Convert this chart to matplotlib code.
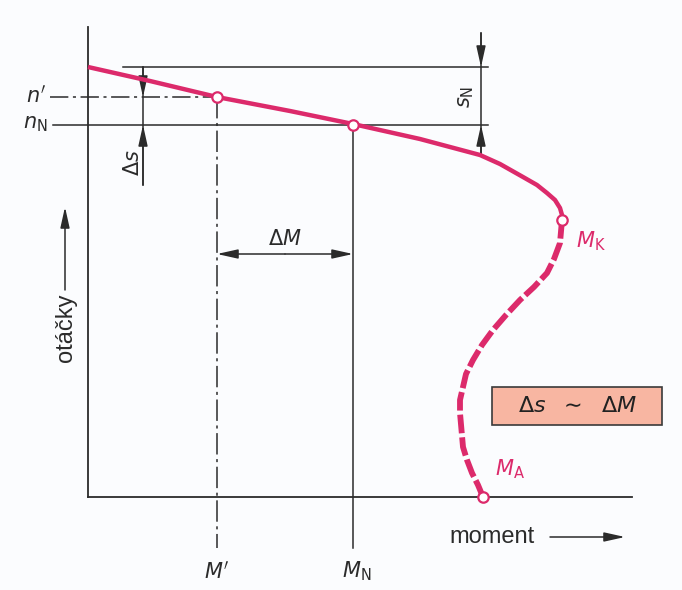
import matplotlib.pyplot as plt
from matplotlib.patches import FancyArrowPatch, Rectangle

plt.rcParams['font.family'] = ['Liberation Sans', 'DejaVu Sans']
plt.rcParams['mathtext.fontset'] = 'dejavusans'

# torque-speed curve (moment, otacky) in drawing units, origin at axis corner
stable_m = [0, 62, 129, 202, 265, 332, 392, 412, 435, 449, 459, 467, 472, 474, 474]
stable_n = [430, 416, 400, 386, 373, 358, 342, 333, 320, 312, 304, 297, 289, 282, 277]
start_m = [474, 472, 466, 459, 446, 432, 418, 405, 394, 385, 378, 375, 372, 372, 375, 379, 384, 390, 395]
start_n = [277, 254, 238, 224, 210, 197, 182, 167, 152, 137, 123, 110, 97, 84, 50, 37, 24, 12, 0]

# marked points
pt_m = [129, 265, 474, 395]
pt_n = [400, 372, 277, 0]

n_sync = 430
n_prime, n_nom = 400, 372
m_prime, m_nom = 129, 265

red = '#dc2a6b'
ink = '#2b2b2b'

fig = plt.figure(figsize=(6.82, 5.90), dpi=100)
fig.patch.set_facecolor('#fbfcfe')
ax = fig.add_axes([0, 0, 1, 1])
ax.set_xlim(-88, 594)
ax.set_ylim(-93, 497)
ax.axis('off')

# axes of the diagram
ax.plot([0, 0], [0, 470], color=ink, lw=1.3)
ax.plot([0, 544], [0, 0], color=ink, lw=1.3)

# helper lines
ax.plot([35, 400], [n_sync, n_sync], color=ink, lw=1.1)
ax.plot([-38, m_prime], [n_prime, n_prime], color=ink, lw=1.1, dashes=(12, 3, 2, 3))
ax.plot([-35, 400], [n_nom, n_nom], color=ink, lw=1.1)
ax.plot([m_prime, m_prime], [n_prime, -51], color=ink, lw=1.1, dashes=(14, 3, 2, 3))
ax.plot([m_nom, m_nom], [n_nom, -51], color=ink, lw=1.1)


def arrow(p0, p1):
    ax.add_patch(FancyArrowPatch(p0, p1, arrowstyle='-|>,head_length=0.9,head_width=0.2',
                                 mutation_scale=14, color=ink, lw=1.1, shrinkA=0, shrinkB=0))


# s_N dimension
ax.plot([393, 393], [464, 342], color=ink, lw=1.1)
arrow((393, 464), (393, n_sync))
arrow((393, 342), (393, n_nom))
# delta s dimension
ax.plot([55, 55], [n_sync, 312], color=ink, lw=1.1)
arrow((55, n_sync), (55, n_prime))
arrow((55, 312), (55, n_nom))
# delta M dimension
arrow(((m_prime + m_nom) / 2, 243), (m_prime, 243))
arrow(((m_prime + m_nom) / 2, 243), (m_nom, 243))
# axis arrows
arrow((-23, 207), (-23, 290))
arrow((462, -40), (537, -40))

# curve
ax.plot(stable_m, stable_n, color=red, lw=3.2, solid_capstyle='butt', solid_joinstyle='round')
ax.plot(start_m, start_n, color=red, lw=4.2, dashes=(3.2, 0.7))
ax.plot(pt_m, pt_n, 'o', ms=7.5, mfc='white', mec=red, mew=1.6, zorder=5)

# box
ax.add_patch(Rectangle((404, 72), 170, 38, facecolor='#f8b6a2', edgecolor='#3a3a3a', lw=1.2))
ax.text(489, 90, r'$\Delta s\ \ \sim\ \ \Delta M$', fontsize=16, ha='center', va='center', color='#222222')

# labels
ax.text(-42, 402, r"$n'$", fontsize=15, ha='right', va='center', color=ink)
ax.text(-40, 373, r'$n_{\mathrm{N}}$', fontsize=15, ha='right', va='center', color=ink)
ax.text(45, 334, r'$\Delta s$', fontsize=15, ha='center', va='center', rotation=90, color=ink)
ax.text(378, 400, r'$s_{\mathrm{N}}$', fontsize=15, ha='center', va='center', rotation=90, color=ink)
ax.text(197, 258, r'$\Delta M$', fontsize=15, ha='center', va='center', color=ink)
ax.text(488, 256, r'$M_{\mathrm{K}}$', fontsize=15, ha='left', va='center', color=red)
ax.text(407, 28, r'$M_{\mathrm{A}}$', fontsize=15, ha='left', va='center', color=red)
ax.text(m_prime, -74, r"$M'$", fontsize=15, ha='center', va='center', color=ink)
ax.text(m_nom + 4, -74, r'$M_{\mathrm{N}}$', fontsize=15, ha='center', va='center', color=ink)
ax.text(-22, 169, 'otáčky', fontsize=17, ha='center', va='center', rotation=90, color=ink)
ax.text(404, -40, 'moment', fontsize=17, ha='center', va='center', color=ink)

fig.savefig('out.png', dpi=100, facecolor=fig.get_facecolor())
